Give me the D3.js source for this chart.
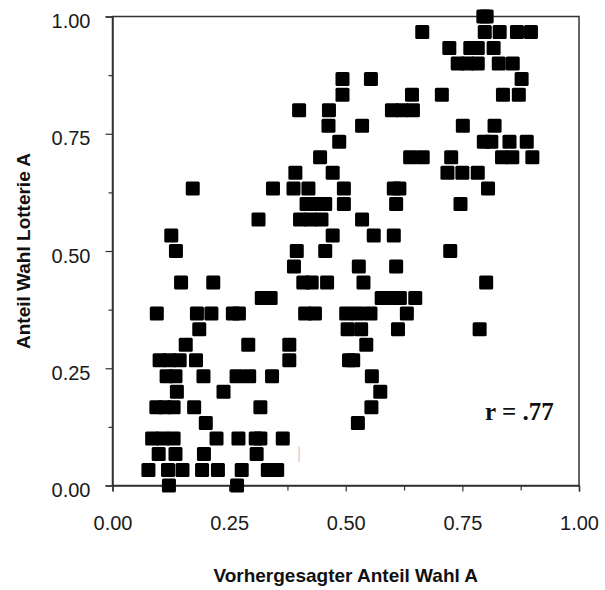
<!DOCTYPE html>
<html>
<head>
<meta charset="utf-8">
<script src="https://cdn.jsdelivr.net/npm/d3@7"></script>
<style>
  body { margin: 0; background: #fff; }
  svg { display: block; }
  .tick text { font-family: "Liberation Sans", Arial, sans-serif; fill: #1a1a1a; }
</style>
</head>
<body>
<div id="chart"></div>
<script>
const width = 605;
const height = 590;

// predicted share of choice A (x) and observed share choosing lottery A (y), one line per row
const predicted = [
    0.795, 0.802,
    0.664, 0.798, 0.830, 0.867, 0.897,
    0.722, 0.767, 0.783, 0.817,
    0.740, 0.761, 0.783, 0.828, 0.858,
    0.493, 0.554, 0.877,
    0.493, 0.642, 0.706, 0.837, 0.871,
    0.400, 0.464, 0.599, 0.621, 0.644,
    0.463, 0.535, 0.751, 0.819,
    0.486, 0.796, 0.812, 0.851, 0.888,
    0.445, 0.638, 0.665, 0.726, 0.835, 0.857, 0.900,
    0.392, 0.472, 0.718, 0.750, 0.783,
    0.172, 0.344, 0.388, 0.420, 0.496, 0.603, 0.615, 0.805,
    0.416, 0.435, 0.456, 0.496, 0.608, 0.746,
    0.313, 0.402, 0.425, 0.448, 0.535,
    0.126, 0.472, 0.560, 0.603,
    0.136, 0.395, 0.456, 0.724,
    0.389, 0.528, 0.608,
    0.147, 0.216, 0.409, 0.427, 0.460, 0.538, 0.801,
    0.320, 0.339, 0.577, 0.597, 0.616, 0.649,
    0.095, 0.181, 0.212, 0.258, 0.271, 0.413, 0.434, 0.501, 0.526, 0.553, 0.631,
    0.186, 0.504, 0.533, 0.612, 0.787,
    0.157, 0.291, 0.379, 0.544,
    0.101, 0.122, 0.144, 0.179, 0.379, 0.507, 0.516,
    0.116, 0.135, 0.195, 0.266, 0.293, 0.342, 0.556,
    0.138, 0.238, 0.574,
    0.094, 0.112, 0.131, 0.175, 0.317, 0.555,
    0.200, 0.526,
    0.085, 0.107, 0.131, 0.223, 0.270, 0.307, 0.317, 0.365,
    0.099, 0.135, 0.196, 0.309,
    0.077, 0.119, 0.150, 0.192, 0.226, 0.277, 0.333, 0.353,
    0.121, 0.267
];
const observed = [
    1.000, 1.000,
    0.967, 0.967, 0.967, 0.967, 0.967,
    0.933, 0.933, 0.933, 0.933,
    0.900, 0.900, 0.900, 0.900, 0.900,
    0.867, 0.867, 0.867,
    0.833, 0.833, 0.833, 0.833, 0.833,
    0.800, 0.800, 0.800, 0.800, 0.800,
    0.767, 0.767, 0.767, 0.767,
    0.733, 0.733, 0.733, 0.733, 0.733,
    0.700, 0.700, 0.700, 0.700, 0.700, 0.700, 0.700,
    0.667, 0.667, 0.667, 0.667, 0.667,
    0.633, 0.633, 0.633, 0.633, 0.633, 0.633, 0.633, 0.633,
    0.600, 0.600, 0.600, 0.600, 0.600, 0.600,
    0.567, 0.567, 0.567, 0.567, 0.567,
    0.533, 0.533, 0.533, 0.533,
    0.500, 0.500, 0.500, 0.500,
    0.467, 0.467, 0.467,
    0.433, 0.433, 0.433, 0.433, 0.433, 0.433, 0.433,
    0.400, 0.400, 0.400, 0.400, 0.400, 0.400,
    0.367, 0.367, 0.367, 0.367, 0.367, 0.367, 0.367, 0.367, 0.367, 0.367, 0.367,
    0.333, 0.333, 0.333, 0.333, 0.333,
    0.300, 0.300, 0.300, 0.300,
    0.267, 0.267, 0.267, 0.267, 0.267, 0.267, 0.267,
    0.233, 0.233, 0.233, 0.233, 0.233, 0.233, 0.233,
    0.200, 0.200, 0.200,
    0.167, 0.167, 0.167, 0.167, 0.167, 0.167,
    0.133, 0.133,
    0.100, 0.100, 0.100, 0.100, 0.100, 0.100, 0.100, 0.100,
    0.067, 0.067, 0.067, 0.067,
    0.033, 0.033, 0.033, 0.033, 0.033, 0.033, 0.033, 0.033,
    0.000, 0.000
];

const majorTicks = [0, 0.25, 0.5, 0.75, 1];
const minorTicks = [0.125, 0.375, 0.625, 0.875];
const xTitle = "Vorhergesagter Anteil Wahl A";
const yTitle = "Anteil Wahl Lotterie A";
const note = "r = .77";

const svg = d3.select("#chart").append("svg")
    .attr("width", width)
    .attr("height", height);

const x = d3.scaleLinear().domain([0, 1]).range([112.5, 579]);
const y = d3.scaleLinear().domain([0, 1]).range([485.5, 16.5]);

const fmt = d3.format(".2f");

// frame
svg.append("rect")
    .attr("x", x(0))
    .attr("y", y(1))
    .attr("width", x(1) - x(0))
    .attr("height", y(0) - y(1))
    .attr("fill", "none")
    .attr("stroke", "#333")
    .attr("stroke-width", 1.5);

// minor ticks first, no labels
svg.append("g")
    .attr("transform", `translate(${x(0)},0)`)
    .call(d3.axisLeft(y).tickValues(minorTicks).tickSize(4).tickFormat(""))
    .call(g => g.select(".domain").remove());
svg.append("g")
    .attr("transform", `translate(0,${y(0)})`)
    .call(d3.axisBottom(x).tickValues(minorTicks).tickSize(5).tickFormat(""))
    .call(g => g.select(".domain").remove());

const yAxis = svg.append("g")
    .attr("transform", `translate(${x(0)},0)`)
    .call(d3.axisLeft(y).tickValues(majorTicks).tickSize(7).tickPadding(15).tickFormat(fmt));
yAxis.select(".domain").attr("stroke", "#333").attr("stroke-width", 1.5);
yAxis.selectAll("text").attr("font-size", 20).attr("dy", "0.55em");

const xAxis = svg.append("g")
    .attr("transform", `translate(0,${y(0)})`)
    .call(d3.axisBottom(x).tickValues(majorTicks).tickSize(6).tickPadding(24).tickFormat(fmt));
xAxis.select(".domain").attr("stroke", "#333").attr("stroke-width", 1.5);
xAxis.selectAll("text").attr("font-size", 20);

svg.selectAll(".tick line").attr("stroke", "#333").attr("stroke-width", 1.2);

// points
svg.append("g")
    .selectAll("rect")
    .data(predicted.map((p, i) => ({ p, o: observed[i] })))
    .enter().append("rect")
    .attr("x", d => x(d.p) - 7)
    .attr("y", d => y(d.o) - 7)
    .attr("width", 14)
    .attr("height", 14)
    .attr("rx", 1.5)
    .attr("fill", "#000");

// small stray mark in the original
svg.append("line")
    .attr("x1", x(0.4)).attr("x2", x(0.4))
    .attr("y1", y(0.083)).attr("y2", y(0.05))
    .attr("stroke", "#e2b398")
    .attr("stroke-width", 1);

svg.append("text")
    .attr("x", 485)
    .attr("y", 420)
    .attr("font-family", "Liberation Serif, Times New Roman, serif")
    .attr("font-weight", "bold")
    .attr("font-size", 25)
    .attr("fill", "#111")
    .text(note);

svg.append("text")
    .attr("x", (x(0) + x(1)) / 2)
    .attr("y", 582)
    .attr("text-anchor", "middle")
    .attr("font-family", "Liberation Sans, Arial, sans-serif")
    .attr("font-weight", "bold")
    .attr("font-size", 19)
    .attr("fill", "#111")
    .text(xTitle);

svg.append("text")
    .attr("transform", `translate(30,${y(0.5)}) rotate(-90)`)
    .attr("text-anchor", "middle")
    .attr("font-family", "Liberation Sans, Arial, sans-serif")
    .attr("font-weight", "bold")
    .attr("font-size", 19)
    .attr("fill", "#111")
    .text(yTitle);
</script>
</body>
</html>
